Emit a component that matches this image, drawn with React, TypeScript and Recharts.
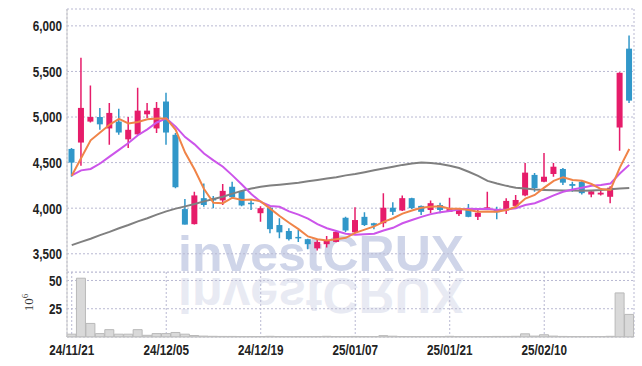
import {
  Bar,
  CartesianGrid,
  ComposedChart,
  Line,
  XAxis,
  YAxis,
} from "recharts";

const dates = [
  "24/11/21", "24/11/22", "24/11/25", "24/11/26", "24/11/27", "24/11/28", "24/11/29", "24/12/02", "24/12/03", "24/12/04",
  "24/12/05", "24/12/06", "24/12/09", "24/12/10", "24/12/11", "24/12/12", "24/12/13", "24/12/16", "24/12/17", "24/12/18",
  "24/12/19", "24/12/20", "24/12/23", "24/12/24", "24/12/26", "24/12/27", "24/12/30", "25/01/02", "25/01/03", "25/01/06",
  "25/01/07", "25/01/08", "25/01/09", "25/01/10", "25/01/13", "25/01/14", "25/01/15", "25/01/16", "25/01/17", "25/01/20",
  "25/01/21", "25/01/22", "25/01/23", "25/01/24", "25/01/31", "25/02/03", "25/02/04", "25/02/05", "25/02/06", "25/02/07",
  "25/02/10", "25/02/11", "25/02/12", "25/02/13", "25/02/14", "25/02/17", "25/02/18", "25/02/19", "25/02/20", "25/02/21",
];

const opens = [
  4650, 4720, 4950, 5000, 4875, 4950, 4755, 4810, 5030, 4875,
  5170, 4805, 3990, 3825, 4110, 4110, 4085, 4235, 4190, 4060,
  3945, 4005, 3815, 3750, 3685, 3660, 3560, 3605, 3630, 3895,
  3735, 3905, 3835, 3835, 4005, 3975, 4110, 4025, 3980, 4035,
  3960, 3935, 3990, 3905, 3990, 3980, 3975, 4025, 4140, 4365,
  4290, 4375, 4430, 4265, 4290, 4150, 4150, 4125, 4885, 5750,
];
const highs = [
  4660, 5650, 5345, 5100, 5155, 5090, 5000, 5320, 5155, 5165,
  5265, 4825, 4100, 4180, 4270, 4135, 4265, 4290, 4200, 4090,
  4020, 4015, 3890, 3780, 3760, 3665, 3650, 3695, 3760, 3905,
  4010, 3955, 3840, 4165, 4065, 4140, 4115, 4030, 4085, 4060,
  4115, 3985, 4045, 3990, 4180, 4015, 4110, 4145, 4495, 4385,
  4605, 4495, 4440, 4290, 4300, 4190, 4195, 4240, 5490, 5895,
];
const lows = [
  4345, 4465, 4940, 4860, 4695, 4805, 4660, 4805, 4990, 4825,
  4695, 4220, 3820, 3820, 4015, 4000, 4035, 4110, 4020, 3980,
  3850, 3725, 3670, 3645, 3630, 3550, 3535, 3570, 3625, 3740,
  3725, 3805, 3770, 3790, 3925, 3970, 3990, 3925, 3945, 3945,
  3960, 3915, 3900, 3870, 3985, 3880, 3935, 4015, 4130, 4180,
  4285, 4345, 4255, 4180, 4150, 4120, 4140, 4055, 4630, 5155,
];
const closes = [
  4500, 5100, 5000, 4920, 5045, 4830, 4860, 5070, 5070, 5100,
  4830, 4230, 3820, 4140, 4035, 4085, 4190, 4120, 4030, 4045,
  4000, 3770, 3735, 3660, 3675, 3605, 3630, 3645, 3740, 3755,
  3870, 3815, 3810, 4005, 3960, 4110, 4000, 3960, 4055, 3980,
  3990, 3980, 3905, 3950, 4010, 3955, 4080, 4090, 4390, 4220,
  4345, 4455, 4280, 4245, 4165, 4185, 4170, 4225, 5485, 5180,
];

// volume, millions of shares
const volumes = [
  2.5, 52, 12, 3, 6.5, 2.5, 2.5, 6.5, 1.5, 3,
  3, 4, 2.5, 1.3, 0.8, 0.6, 0.5, 0.5, 0.4, 0.4,
  0.4, 0.6, 0.4, 0.3, 0.3, 0.3, 0.3, 0.6, 0.3, 0.3,
  0.5, 0.4, 0.3, 1.2, 0.7, 0.4, 0.3, 0.3, 0.3, 0.3,
  0.6, 0.3, 0.3, 0.3, 0.4, 0.5, 0.5, 0.6, 2.8, 0.8,
  2, 0.8, 0.5, 0.3, 0.3, 0.3, 0.3, 0.6, 39, 20,
];

const ma5 = [
  4355, 4550, 4745, 4830, 4915, 4980, 4930, 4945, 4975, 4985,
  4985, 4860, 4610, 4425, 4210, 4060, 4055, 4115, 4090, 4095,
  4075, 3995, 3915, 3840, 3770, 3690, 3660, 3645, 3660, 3675,
  3730, 3765, 3800, 3850, 3890, 3940, 3975, 4005, 4015, 4020,
  3995, 3995, 3980, 3960, 3965, 3960, 3980, 4015, 4105, 4145,
  4225, 4300, 4340, 4310, 4300, 4265, 4210, 4200, 4445, 4650,
];
const ma10 = [
  4360, 4415, 4430, 4490, 4565, 4640, 4715, 4800, 4865, 4940,
  4985, 4895, 4780, 4700, 4600, 4525, 4455, 4360, 4260, 4155,
  4070, 4025, 4015, 3965, 3930, 3885, 3825, 3780, 3750, 3720,
  3710, 3715, 3720, 3755, 3785, 3835, 3870, 3905, 3935, 3955,
  3970, 3985, 3995, 3990, 3995, 3980, 3985, 4000, 4035, 4055,
  4095, 4140, 4180, 4205, 4225, 4245, 4255, 4270, 4380, 4475,
];
const ma60 = [
  3595, 3630, 3665, 3705, 3740, 3780, 3815, 3855, 3890, 3930,
  3965, 3995, 4020, 4045, 4075, 4100, 4125, 4160, 4190, 4215,
  4235, 4248, 4258, 4268, 4280, 4295, 4310, 4325, 4340, 4360,
  4375, 4395, 4415, 4435, 4455, 4475, 4490, 4500, 4495, 4485,
  4465, 4440, 4400, 4355, 4300, 4270, 4245, 4225, 4215, 4205,
  4200, 4197, 4195, 4193, 4192, 4195, 4200, 4208, 4215, 4222,
];

const priceTicks = [3500, 4000, 4500, 5000, 5500, 6000];
const volumeTicks = [25, 50];

const data = dates.map((date, i) => ({
  date,
  open: opens[i],
  high: highs[i],
  low: lows[i],
  close: closes[i],
  volume: volumes[i],
  ma5: ma5[i],
  ma10: ma10[i],
  ma60: ma60[i],
}));

const UP = "#e61c6a";
const DOWN = "#3197c9";
const FONT = "'Liberation Sans', Arial, sans-serif";
const GRID = "#b9b9d2";
const BORDER = "#c8c8c8";

// narrow-looking tick labels: Liberation Sans squeezed horizontally
function YTick({ x, y, payload, textAnchor }: any) {
  return (
    <text
      transform={`translate(${x},${y}) scale(0.78,1)`}
      textAnchor={textAnchor}
      dy="0.355em"
      fontFamily={FONT}
      fontWeight="bold"
      fontSize={15}
      fill="#222"
    >
      {Number(payload.value).toLocaleString("en-US")}
    </text>
  );
}

function XTick({ x, y, payload }: any) {
  return (
    <text
      transform={`translate(${x},${y}) scale(0.78,1)`}
      textAnchor="middle"
      dy="0.71em"
      fontFamily={FONT}
      fontWeight="bold"
      fontSize={15}
      fill="#222"
    >
      {payload.value}
    </text>
  );
}

function Candle(props: any) {
  const { x, y, width, height, payload } = props;
  const { open, close, high, low } = payload;
  const k = high > low ? height / (high - low) : 0;
  const yOf = (v: number) => y + (high - v) * k;
  const color = close >= open ? UP : DOWN;
  const cx = x + width / 2;
  const bw = 6;
  const top = yOf(Math.max(open, close));
  const bottom = yOf(Math.min(open, close));
  return (
    <g>
      <line x1={cx} x2={cx} y1={y} y2={y + height} stroke={color} strokeWidth={1.5} />
      <rect x={cx - bw / 2} y={top} width={bw} height={Math.max(1.5, bottom - top)} fill={color} />
    </g>
  );
}

function VolumeLabel({ viewBox }: any) {
  const cx = viewBox.x + 33;
  const cy = viewBox.y + viewBox.height / 2 - 2;
  return (
    <text
      x={cx}
      y={cy}
      transform={`rotate(-90, ${cx}, ${cy})`}
      textAnchor="middle"
      fontFamily="'Liberation Serif', serif"
      fontSize={13}
      fill="#333"
    >
      10<tspan dy={-5} fontSize={9}>6</tspan>
    </text>
  );
}

export default function App() {
  return (
    <div style={{ position: "absolute", left: 0, top: 0, width: 642, height: 366, background: "#fff" }}>
      <svg width={642} height={366} style={{ position: "absolute", left: 0, top: 0 }}>
        <text x={178} y={271} fontFamily={FONT} fontWeight="bold" fontSize={50} fill="#cfd5e9">
          investCRUX
        </text>
        <text
          x={178}
          y={271}
          transform="translate(0, 549) scale(1, -1)"
          fontFamily={FONT}
          fontWeight="bold"
          fontSize={50}
          fill="#e8eaf3"
        >
          investCRUX
        </text>
      </svg>
      <div style={{ position: "absolute", left: 0, top: 0 }}>
        <ComposedChart width={642} height={273} data={data} margin={{ top: 9, right: 8, bottom: 1, left: 0 }} barCategoryGap={0}>
          <CartesianGrid stroke={GRID} strokeDasharray="2 2" />
          <XAxis dataKey="date" interval={9} tick={false} tickLine={false} axisLine={{ stroke: BORDER }} height={0} />
          <XAxis xAxisId="top" orientation="top" dataKey="date" tick={false} tickLine={false} axisLine={{ stroke: BORDER }} height={0} />
          <YAxis
            domain={[3300, 6185]}
            ticks={priceTicks}
            allowDataOverflow
            width={67}
            tickLine={false}
            tickSize={0}
            tickMargin={5}
            axisLine={{ stroke: BORDER }}
            tick={YTick}
          />
          <YAxis yAxisId="right" orientation="right" width={0} tick={false} tickLine={false} axisLine={{ stroke: BORDER }} />
          <Bar dataKey={(d: any) => [d.low, d.high]} shape={Candle} isAnimationActive={false} />
          <Line dataKey="ma60" stroke="#808080" strokeWidth={2} dot={false} isAnimationActive={false} />
          <Line dataKey="ma10" stroke="#cc55ea" strokeWidth={2} dot={false} isAnimationActive={false} />
          <Line dataKey="ma5" stroke="#f08448" strokeWidth={2} dot={false} isAnimationActive={false} />
        </ComposedChart>
      </div>
      <div style={{ position: "absolute", left: 0, top: 272 }}>
        <ComposedChart width={642} height={94} data={data} margin={{ top: 0, right: 8, bottom: 0, left: 0 }} barCategoryGap={0}>
          <CartesianGrid stroke={GRID} strokeDasharray="2 2" />
          <XAxis
            dataKey="date"
            interval={9}
            tickLine={false}
            tickSize={0}
            tickMargin={7}
            axisLine={{ stroke: "#bdbdbd" }}
            height={29}
            tick={XTick}
          />
          <YAxis
            domain={[0, 57.5]}
            ticks={volumeTicks}
            allowDataOverflow
            width={67}
            tickLine={false}
            tickSize={0}
            tickMargin={5}
            axisLine={{ stroke: BORDER }}
            tick={YTick}
            label={{ content: VolumeLabel }}
          />
          <YAxis yAxisId="right" orientation="right" width={0} tick={false} tickLine={false} axisLine={{ stroke: BORDER }} />
          <Bar dataKey="volume" fill="#d9d9d9" stroke="#b9b9b9" strokeWidth={1} isAnimationActive={false} />
        </ComposedChart>
      </div>
    </div>
  );
}
